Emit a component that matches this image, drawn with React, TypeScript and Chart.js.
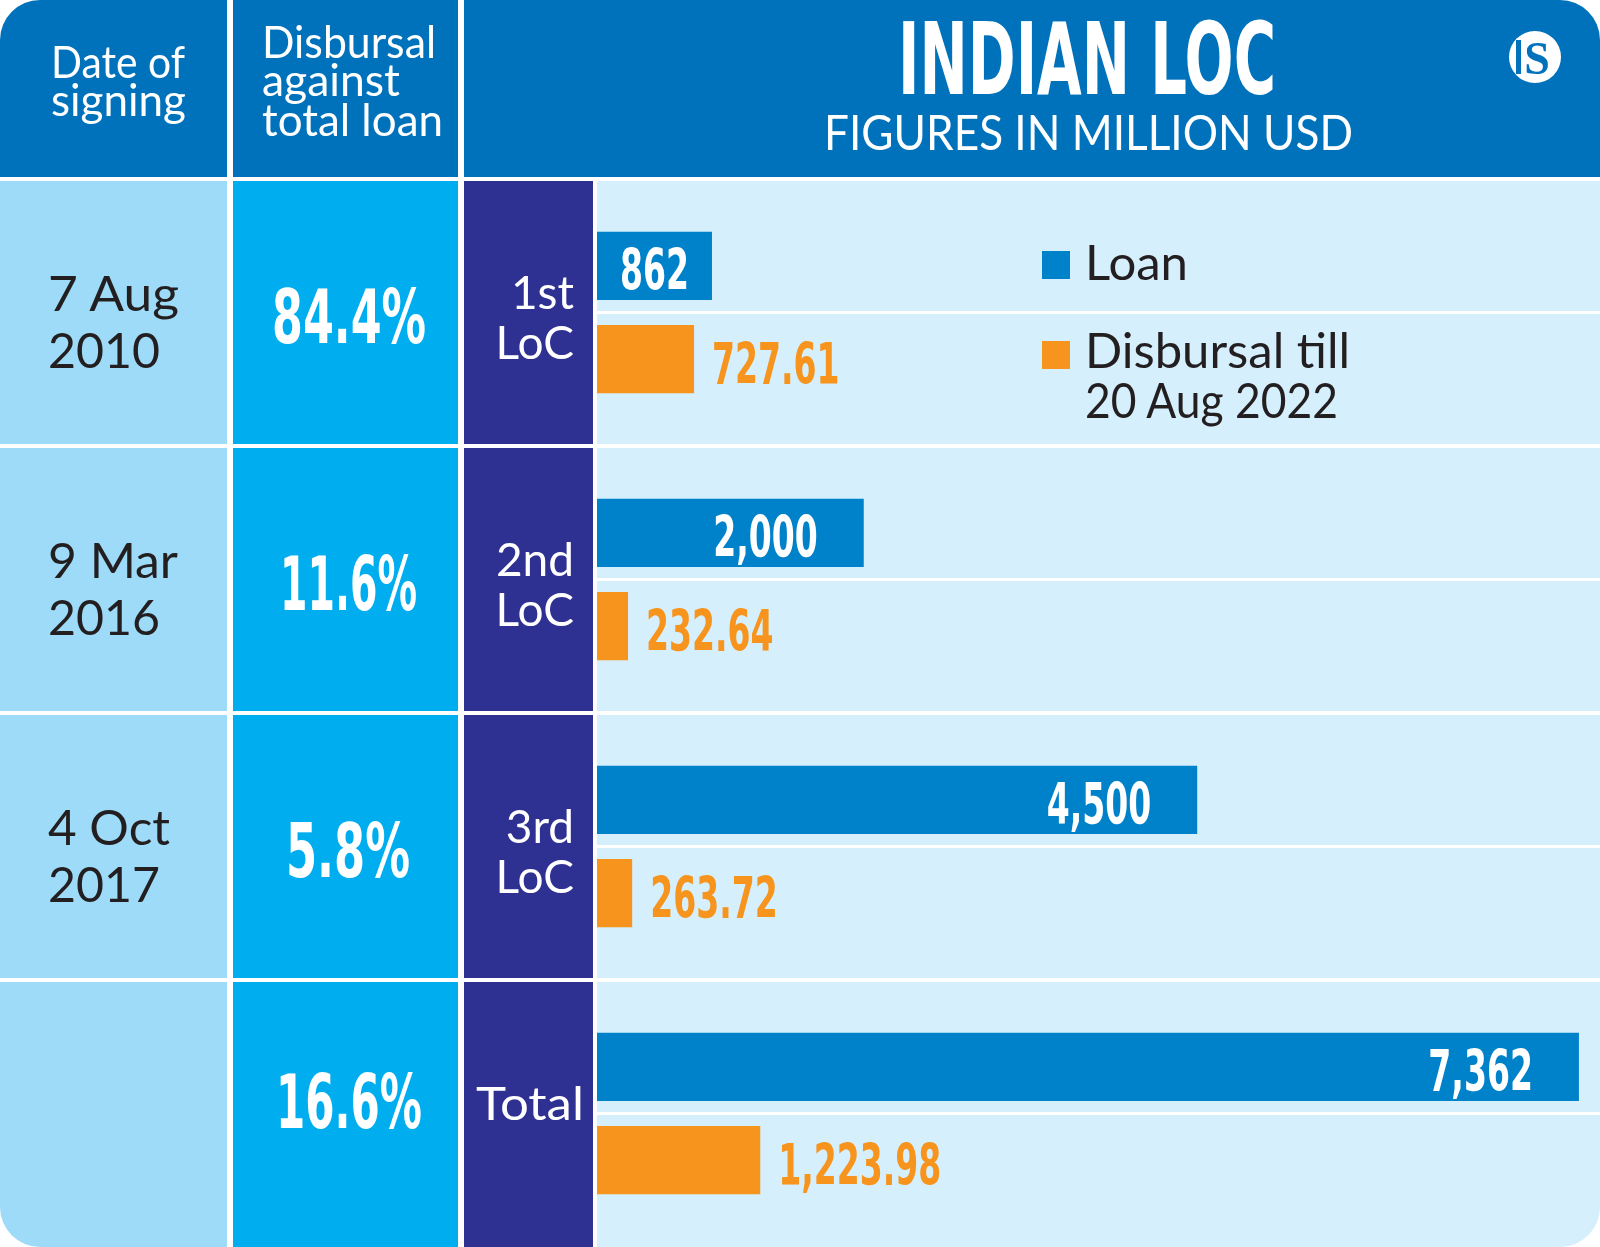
import React, { useEffect, useRef } from "react";
import { Chart, registerables } from "chart.js";

Chart.register(...registerables);

// ---------- data ----------
const categories = ["1st LoC", "2nd LoC", "3rd LoC", "Total"];
const loanValues = [862, 2000, 4500, 7362];
const disbursalValues = [727.61, 232.64, 263.72, 1223.98];
const signingDates = [["7 Aug", "2010"], ["9 Mar", "2016"], ["4 Oct", "2017"], []];
const disbursalShares = ["84.4%", "11.6%", "5.8%", "16.6%"];
const rowLabels = [["1st", "LoC"], ["2nd", "LoC"], ["3rd", "LoC"], ["Total"]];
const seriesNames = ["Loan", "Disbursal till 20 Aug 2022"];
const xMax = 7520;

// ---------- styles ----------
const W = 1600;
const H = 1247;
const HEADER_H = 177;
const ROW0 = 179;
const ROW_H = 267;
const COL1 = [0, 227];
const COL2 = [233, 458];
const COL3 = [464, 593];
const CHART_X = 597;
const C_HEADER = "#0072BC";
const C_COL1 = "#9DDBF8";
const C_COL2 = "#00AEEF";
const C_COL3 = "#2E3192";
const C_CHART_BG = "#D5EFFC";
const C_LOAN = "#0082CA";
const C_DISB = "#F7941D";
const C_DARK = "#231F20";
const LATO = "Lato, 'Open Sans', sans-serif";
const NARROW = "'Liberation Sans Narrow', 'DejaVu Sans Condensed', sans-serif";

const fmtLoan = (v: number) => v.toLocaleString("en-US");
const fmtDisb = (v: number) =>
  v.toLocaleString("en-US", { minimumFractionDigits: 2, maximumFractionDigits: 2 });

const T = (p: any) => (
  <text
    x={p.x}
    y={p.y}
    fontSize={p.s}
    fontFamily={p.ff || LATO}
    fontWeight={p.fw || 400}
    fill={p.fill || "#fff"}
    textAnchor={p.anchor || "start"}
    textLength={p.len}
    lengthAdjust={p.len ? "spacingAndGlyphs" : undefined}
  >
    {p.children}
  </text>
);

const bgLinesPlugin = {
  id: "bgLines",
  beforeDraw(chart: any) {
    const { ctx, width, height } = chart;
    const y = chart.scales.y;
    ctx.save();
    ctx.fillStyle = C_CHART_BG;
    ctx.fillRect(0, 0, width, height);
    const c0 = y.getPixelForValue(0);
    const half = (y.getPixelForValue(1) - c0) / 2;
    ctx.fillStyle = "#ffffff";
    for (let i = 0; i < categories.length; i++) {
      const c = y.getPixelForValue(i);
      ctx.fillRect(0, c - half - 2, width, 4);
      ctx.fillRect(0, c - 1.5, width, 3);
    }
    ctx.restore();
  },
};

const valueLabelPlugin = {
  id: "valueLabels",
  afterDatasetsDraw(chart: any) {
    const { ctx } = chart;
    const fs = 57;
    const cap = fs * 0.716;
    ctx.save();
    ctx.font = `bold ${fs}px ${NARROW}`;
    ctx.textBaseline = "alphabetic";
    const sx = 23 / ctx.measureText("0").width;
    chart.data.datasets.forEach((ds: any, di: number) => {
      const meta = chart.getDatasetMeta(di);
      meta.data.forEach((el: any, i: number) => {
        const v = ds.data[i];
        const text = di === 0 ? fmtLoan(v) : fmtDisb(v);
        const w = ctx.measureText(text).width * sx;
        const by = el.y + cap / 2 + 4;
        let x: number;
        if (di === 0) {
          ctx.fillStyle = "#ffffff";
          const bw = el.x - el.base;
          x = bw >= w + 92 ? el.x - 46 - w : (el.x + el.base) / 2 - w / 2;
        } else {
          ctx.fillStyle = C_DISB;
          x = el.x + 18;
        }
        ctx.save();
        ctx.translate(x, by);
        ctx.scale(sx, 1);
        ctx.textAlign = "left";
        ctx.fillText(text, 0, 0);
        ctx.restore();
      });
    });
    ctx.restore();
  },
};

function BarChart() {
  const ref = useRef<HTMLCanvasElement | null>(null);
  useEffect(() => {
    if (!ref.current) return;
    const chart = new Chart(ref.current, {
      type: "bar",
      data: {
        labels: categories,
        datasets: [
          {
            label: seriesNames[0],
            data: loanValues,
            backgroundColor: C_LOAN,
            borderWidth: 0,
            categoryPercentage: 0.7,
            barPercentage: 0.73,
          },
          {
            label: seriesNames[1],
            data: disbursalValues,
            backgroundColor: C_DISB,
            borderWidth: 0,
            categoryPercentage: 0.7,
            barPercentage: 0.73,
          },
        ],
      },
      options: {
        indexAxis: "y",
        responsive: false,
        maintainAspectRatio: false,
        animation: false,
        devicePixelRatio: 1,
        layout: { padding: 0 },
        plugins: {
          legend: { display: false },
          tooltip: { enabled: false },
          title: { display: false },
        },
        scales: {
          x: { display: false, min: 0, max: xMax },
          y: { display: false },
        },
      } as any,
      plugins: [bgLinesPlugin, valueLabelPlugin],
    });
    return () => chart.destroy();
  }, []);
  return (
    <canvas
      ref={ref}
      width={W - CHART_X}
      height={H - ROW0}
      style={{ position: "absolute", left: CHART_X, top: ROW0, width: W - CHART_X, height: H - ROW0 }}
    />
  );
}

export default function App() {
  useEffect(() => {
    document.body.style.margin = "0";
  }, []);
  const rowTop = (i: number) => ROW0 + ROW_H * i + 2;
  const rowBot = (i: number) => (i === 3 ? H : ROW0 + ROW_H * (i + 1) - 2);
  const rowMid = (i: number) => ROW0 + ROW_H * i + ROW_H / 2;
  const pctPos = [
    { x: 272, len: 154, y: 343 },
    { x: 280, len: 137, y: 610 },
    { x: 286, len: 124, y: 877 },
    { x: 276, len: 146, y: 1128 },
  ];
  const dateLens = [[131, 112], [130, 112], [122, 112], []];
  return (
    <div
      style={{
        position: "fixed",
        left: 0,
        top: 0,
        width: W,
        height: H,
        background: "#ffffff",
        borderRadius: 40,
        overflow: "hidden",
      }}
    >
      <BarChart />
      <svg
        width={W}
        height={H}
        style={{ position: "absolute", left: 0, top: 0, pointerEvents: "none" }}
      >
        {/* header cells */}
        <rect x={COL1[0]} y={0} width={COL1[1] - COL1[0]} height={HEADER_H} fill={C_HEADER} />
        <rect x={COL2[0]} y={0} width={COL2[1] - COL2[0]} height={HEADER_H} fill={C_HEADER} />
        <rect x={COL3[0]} y={0} width={W - COL3[0]} height={HEADER_H} fill={C_HEADER} />
        {/* body cells */}
        {categories.map((_, i) => (
          <g key={i}>
            <rect x={COL1[0]} y={rowTop(i)} width={COL1[1] - COL1[0]} height={rowBot(i) - rowTop(i)} fill={C_COL1} />
            <rect x={COL2[0]} y={rowTop(i)} width={COL2[1] - COL2[0]} height={rowBot(i) - rowTop(i)} fill={C_COL2} />
            <rect x={COL3[0]} y={rowTop(i)} width={COL3[1] - COL3[0]} height={rowBot(i) - rowTop(i)} fill={C_COL3} />
          </g>
        ))}
        {/* header text */}
        <T x={51} y={78} s={44} len={134}>Date of</T>
        <T x={51} y={116} s={44} len={135}>signing</T>
        <T x={262} y={58} s={44} len={174}>Disbursal</T>
        <T x={262} y={96} s={44} len={138}>against</T>
        <T x={262} y={136} s={44} len={181}>total loan</T>
        <T x={898} y={94} s={99} ff={NARROW} fw={700} len={378}>INDIAN LOC</T>
        <T x={824} y={150} s={48} len={529}>FIGURES IN MILLION USD</T>
        {/* logo */}
        <circle cx={1535} cy={57} r={26} fill="#ffffff" />
        <rect x={1516} y={40} width={5} height={34} fill={C_HEADER} />
        <text x={1537} y={74} fontSize={46} fontFamily="'Liberation Serif', serif" fontWeight={700} fill={C_HEADER} textAnchor="middle">S</text>
        {/* rows */}
        {categories.map((_, i) => (
          <g key={"r" + i}>
            {signingDates[i].map((line, j) => (
              <T key={j} x={48} y={rowMid(i) - 2 + j * 57} s={49} fill={C_DARK} len={dateLens[i][j]}>{line}</T>
            ))}
            <T x={pctPos[i].x} y={pctPos[i].y} s={74} ff={NARROW} fw={700} len={pctPos[i].len}>
              {disbursalShares[i]}
            </T>
            {rowLabels[i].length === 2 ? (
              rowLabels[i].map((line, j) => (
                <T key={j} x={574} y={rowMid(i) - 4 + j * 50} s={46} anchor="end">{line}</T>
              ))
            ) : (
              <T x={476} y={1120} s={46} len={108}>{rowLabels[i][0]}</T>
            )}
          </g>
        ))}
        {/* legend */}
        <rect x={1042} y={251} width={28} height={28} fill={C_LOAN} />
        <rect x={1042} y={341} width={28} height={28} fill={C_DISB} />
        <T x={1085} y={280} s={48} fill={C_DARK} len={103}>Loan</T>
        <T x={1085} y={368} s={48} fill={C_DARK} len={265}>Disbursal till</T>
        <T x={1085} y={418} s={48} fill={C_DARK} len={253}>20 Aug 2022</T>
      </svg>
    </div>
  );
}
